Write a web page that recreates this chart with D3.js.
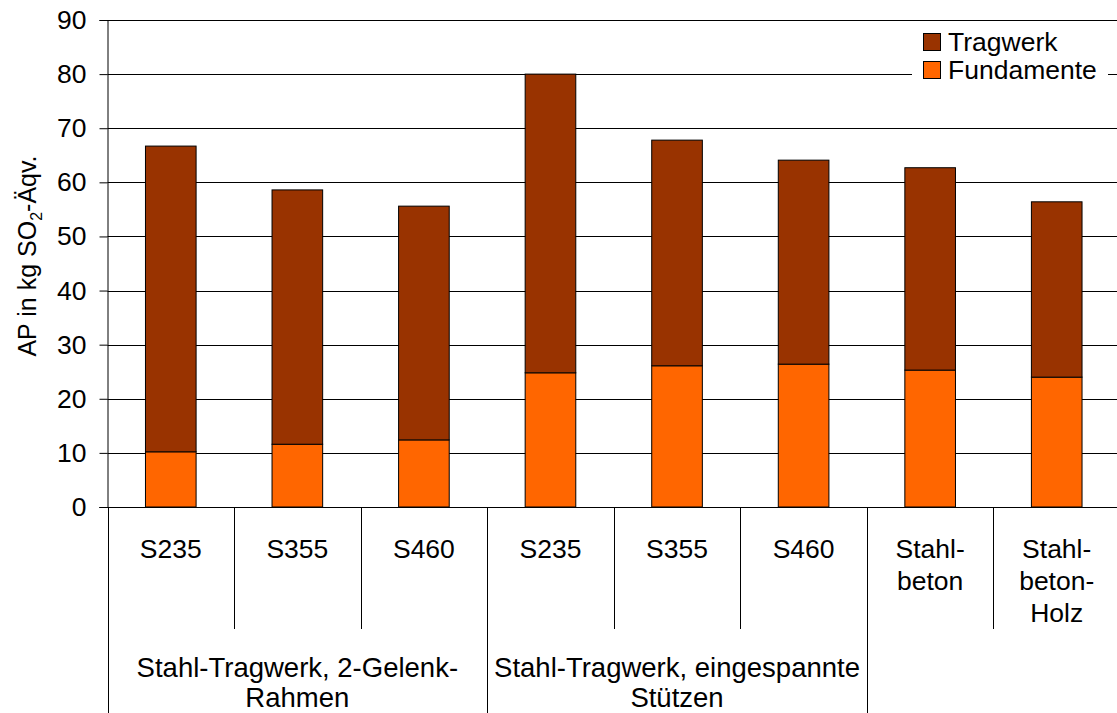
<!DOCTYPE html>
<html>
<head>
<meta charset="utf-8">
<script src="https://cdn.jsdelivr.net/npm/d3@7"></script>
<style>
  body { margin: 0; background: #fff; }
  svg { display: block; font-family: "Liberation Sans", Arial, sans-serif; }
</style>
</head>
<body>
<div id="chart"></div>
<script>
const categories = ['S235', 'S355', 'S460', 'S235', 'S355', 'S460', 'Stahl-\nbeton', 'Stahl-\nbeton-\nHolz'];
const groups = [
  { label: 'Stahl-Tragwerk, 2-Gelenk-\nRahmen', from: 0, to: 3 },
  { label: 'Stahl-Tragwerk, eingespannte\nStützen', from: 3, to: 6 },
  { label: '', from: 6, to: 8 }
];
const fundamente = [10.2, 11.6, 12.4, 24.8, 26.1, 26.4, 25.3, 24.0];
const tragwerk = [56.5, 47.0, 43.2, 55.2, 41.7, 37.7, 37.4, 32.4];
const yTicks = [0, 10, 20, 30, 40, 50, 60, 70, 80, 90];
const seriesNames = ['Tragwerk', 'Fundamente'];
const colors = { Tragwerk: '#993300', Fundamente: '#ff6600' };

const W = 1117, H = 713;
const FS = 26.5;
const margin = { left: 107.5, right: -3, top: 20, bottom: 206 };

const svg = d3.select('#chart').append('svg')
  .attr('width', W).attr('height', H);

const x = d3.scaleBand()
  .domain(d3.range(categories.length))
  .range([margin.left, W - margin.right])
  .paddingInner(0).paddingOuter(0);

const y = d3.scaleLinear()
  .domain([0, 90])
  .range([H - margin.bottom, margin.top]);

// gridlines
svg.append('g').selectAll('line')
  .data(yTicks.filter(d => d > 0))
  .join('line')
  .attr('x1', margin.left).attr('x2', W)
  .attr('y1', d => Math.round(y(d)) + 0.5).attr('y2', d => Math.round(y(d)) + 0.5)
  .attr('stroke', '#000').attr('stroke-width', 1);

// y axis
const yAxis = svg.append('g')
  .attr('transform', 'translate(' + margin.left + ',0)')
  .call(d3.axisLeft(y).tickValues(yTicks).tickSize(8).tickPadding(13));
yAxis.select('.domain').attr('stroke', '#000');
yAxis.selectAll('.tick line').attr('stroke', '#000');
yAxis.selectAll('.tick text')
  .attr('font-size', FS).attr('fill', '#000')
  .style('font-family', '"Liberation Sans", Arial, sans-serif');

// y label
const yl = svg.append('text')
  .attr('transform', 'translate(36,' + 256 + ') rotate(-90)')
  .attr('text-anchor', 'middle')
  .attr('font-size', 25).attr('fill', '#000');
yl.append('tspan').text('AP in kg SO');
yl.append('tspan').attr('font-size', 16).attr('dy', 6).text('2');
yl.append('tspan').attr('dy', -6).text('-Äqv.');

// stacked bars
const bw = x.bandwidth() * 0.4;
const stackData = categories.map((c, i) => ({ i, Fundamente: fundamente[i], Tragwerk: tragwerk[i] }));
const stack = d3.stack().keys(['Fundamente', 'Tragwerk'])(stackData);

svg.append('g').selectAll('g')
  .data(stack)
  .join('g')
  .attr('fill', d => colors[d.key])
  .selectAll('rect')
  .data(d => d)
  .join('rect')
  .attr('x', d => x(d.data.i) + (x.bandwidth() - bw) / 2)
  .attr('width', bw)
  .attr('y', d => y(d[1]))
  .attr('height', d => y(d[0]) - y(d[1]))
  .attr('stroke', '#000').attr('stroke-width', 1);

// baseline
const y0 = Math.round(y(0)) + 0.5;
svg.append('line')
  .attr('x1', margin.left - 8).attr('x2', W)
  .attr('y1', y0).attr('y2', y0)
  .attr('stroke', '#000');

// category separators (level 1)
const innerBounds = d3.range(1, categories.length).filter(i => !groups.some(g => g.from === i));
svg.append('g').selectAll('line')
  .data(innerBounds)
  .join('line')
  .attr('x1', i => Math.round(x(i)) + 0.5).attr('x2', i => Math.round(x(i)) + 0.5)
  .attr('y1', y0).attr('y2', 629)
  .attr('stroke', '#000');

// group separators (level 2)
svg.append('g').selectAll('line')
  .data(groups.map(g => g.from))
  .join('line')
  .attr('x1', i => Math.round(x(i)) + 0.5).attr('x2', i => Math.round(x(i)) + 0.5)
  .attr('y1', y0).attr('y2', H)
  .attr('stroke', '#000');

// category labels
svg.append('g').selectAll('text')
  .data(categories)
  .join('text')
  .attr('x', (d, i) => x(i) + x.bandwidth() / 2)
  .attr('y', 558)
  .attr('text-anchor', 'middle')
  .attr('font-size', FS).attr('fill', '#000')
  .each(function (d) {
    d3.select(this).selectAll('tspan')
      .data(d.split('\n'))
      .join('tspan')
      .attr('x', d3.select(this).attr('x'))
      .attr('dy', (t, k) => k === 0 ? 0 : 32)
      .text(t => t);
  });

// group labels
svg.append('g').selectAll('text')
  .data(groups)
  .join('text')
  .attr('x', g => (x(g.from) + x(g.to - 1) + x.bandwidth()) / 2)
  .attr('y', 677)
  .attr('text-anchor', 'middle')
  .attr('font-size', 27.5).attr('fill', '#000')
  .each(function (g) {
    d3.select(this).selectAll('tspan')
      .data(g.label.split('\n'))
      .join('tspan')
      .attr('x', d3.select(this).attr('x'))
      .attr('dy', (t, k) => k === 0 ? 0 : 30)
      .text(t => t);
  });

// legend
const legend = svg.append('g').attr('transform', 'translate(912,27)');
legend.append('rect')
  .attr('x', 0).attr('y', 0).attr('width', 196).attr('height', 57)
  .attr('fill', '#fff');
const li = legend.selectAll('g.item')
  .data(seriesNames)
  .join('g')
  .attr('class', 'item')
  .attr('transform', (d, i) => 'translate(11,' + (6 + i * 28) + ')');
li.append('rect')
  .attr('x', 0.5).attr('y', 0.5).attr('width', 17).attr('height', 17)
  .attr('fill', d => colors[d]).attr('stroke', '#000');
li.append('text')
  .attr('x', 25).attr('y', 18)
  .attr('font-size', FS).attr('fill', '#000')
  .text(d => d);
</script>
</body>
</html>
